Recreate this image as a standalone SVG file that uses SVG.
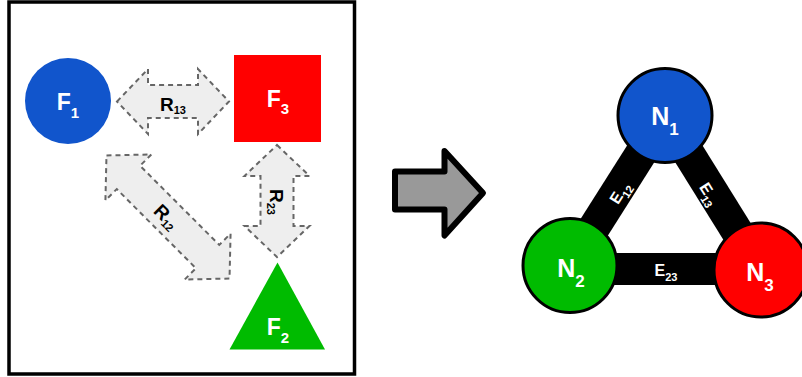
<svg xmlns="http://www.w3.org/2000/svg" width="802" height="377" viewBox="0 0 802 377">
<defs>
<style>
.frame{fill:none;stroke:#000;stroke-width:3.5}
.rel{fill:#eeeeee;stroke:#666;stroke-width:2;stroke-dasharray:5,4}
.edge{stroke:#000;stroke-width:32;stroke-linecap:butt}
.node{stroke:#000;stroke-width:3}
.lbl{font-family:"Liberation Sans",Arial,sans-serif;fill:#fff;text-anchor:middle}
.rl{font-family:"Liberation Sans",Arial,sans-serif;fill:#000;font-weight:bold;text-anchor:middle}
.el{font-family:"Liberation Sans",Arial,sans-serif;fill:#fff;font-weight:bold;text-anchor:middle}
</style>
<path id="dbl112" d="M-56,0 L-25,-32.5 L-25,-16.5 L25,-16.5 L25,-32.5 L56,0 L25,32.5 L25,16.5 L-25,16.5 L-25,32.5 Z"/>
</defs>
<rect class="frame" x="9" y="2" width="345.5" height="372"/>
<g id="F1">
<circle cx="68" cy="101" r="43" fill="#1155cc"/>
<text class="lbl" x="68" y="110" font-size="23" font-weight="bold">F<tspan font-size="15" dy="8">1</tspan></text>
</g>
<g id="F3">
<rect x="234" y="55" width="87" height="87" fill="#ff0000"/>
<text class="lbl" x="278" y="107" font-size="23" font-weight="bold">F<tspan font-size="15" dy="7">3</tspan></text>
</g>
<g id="F2">
<polygon points="277.5,262.5 325,349.5 229.5,349.5" fill="#00bb00"/>
<text class="lbl" x="278" y="335" font-size="23" font-weight="bold">F<tspan font-size="15" dy="8">2</tspan></text>
</g>
<g id="relations">
<g id="R13">
<use href="#dbl112" class="rel" transform="translate(173,101.5)"/>
<text class="rl" x="173" y="111" font-size="19">R<tspan font-size="11" dy="3">13</tspan></text>
</g>
<g id="R12">
<path class="rel" transform="translate(168,217) rotate(45)" d="M-87,0 L-56,-32.5 L-56,-16.5 L56,-16.5 L56,-32.5 L87,0 L56,32.5 L56,16.5 L-56,16.5 L-56,32.5 Z"/>
<text class="rl" transform="translate(166,217) rotate(45)" x="0" y="6" font-size="19">R<tspan font-size="11" dy="3">12</tspan></text>
</g>
<g id="R23">
<use href="#dbl112" class="rel" transform="translate(277,201) rotate(90)"/>
<text class="rl" transform="translate(277,202) rotate(90)" x="0" y="7" font-size="19">R<tspan font-size="11" dy="3">23</tspan></text>
</g>
</g>
<g id="transform-arrow">
<path d="M395,171.5 L444.5,171.5 L444.5,151 L483,193 L444.5,235.5 L444.5,209.5 L395,209.5 Z" fill="#999999" stroke="#000" stroke-width="6" stroke-linejoin="round"/>
</g>
<g id="connectors">
<line class="edge" x1="665" y1="115.5" x2="570" y2="265.5"/>
<line class="edge" x1="665" y1="115.5" x2="761" y2="270"/>
<line class="edge" x1="570" y1="269" x2="761" y2="269"/>
<text class="el" transform="translate(620,193) rotate(-57.6)" x="0" y="5" font-size="16">E<tspan font-size="11" dy="5">12</tspan></text>
<text class="el" transform="translate(709,194) rotate(58)" x="0" y="5" font-size="16">E<tspan font-size="11" dy="5">13</tspan></text>
<text class="el" x="666" y="276" font-size="16">E<tspan font-size="11" dy="5">23</tspan></text>
</g>
<g id="N1">
<circle class="node" cx="665" cy="115.5" r="47" fill="#1155cc"/>
<text class="lbl" x="665" y="125" font-size="25" font-weight="bold">N<tspan font-size="17" dy="10">1</tspan></text>
</g>
<g id="N2">
<circle class="node" cx="570" cy="265.5" r="47" fill="#00bb00"/>
<text class="lbl" x="571" y="277" font-size="25" font-weight="bold">N<tspan font-size="17" dy="10">2</tspan></text>
</g>
<g id="N3">
<circle class="node" cx="761" cy="270" r="47" fill="#ff0000"/>
<text class="lbl" x="760" y="281" font-size="25" font-weight="bold">N<tspan font-size="17" dy="10">3</tspan></text>
</g>
</svg>
